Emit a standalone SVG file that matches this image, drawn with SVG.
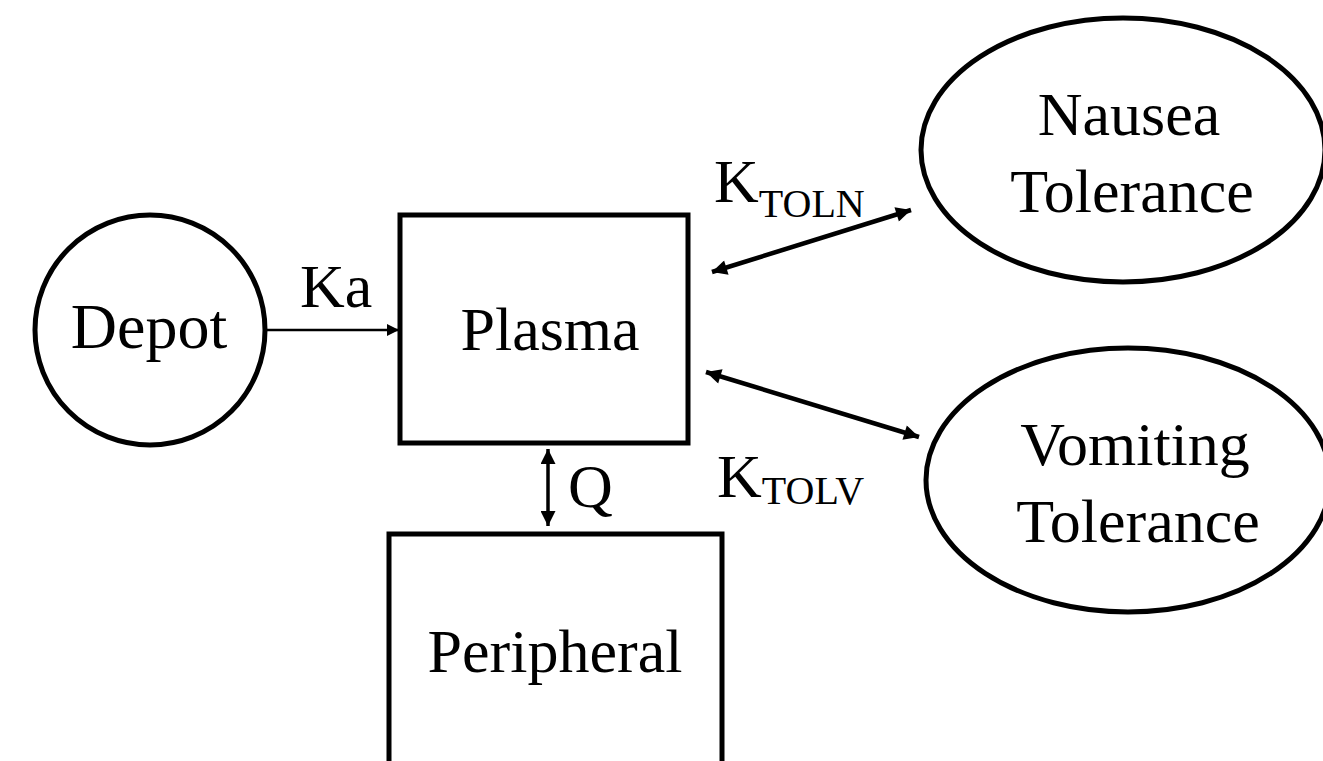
<svg xmlns="http://www.w3.org/2000/svg" width="1323" height="761" viewBox="0 0 1323 761">
<style>
.n{fill:#fff;stroke:#000;stroke-width:5}
.t{font-family:"Liberation Serif","Times New Roman",serif;font-size:62px;fill:#000;text-anchor:middle}
.l{font-family:"Liberation Serif","Times New Roman",serif;font-size:62px;fill:#000}
.c{stroke:#000;fill:none}
</style>
<defs>
<marker id="ah" viewBox="0 0 10 10" refX="10" refY="5" markerWidth="19" markerHeight="15" markerUnits="userSpaceOnUse" orient="auto-start-reverse">
<path d="M0,0 L10,5 L0,10 z" fill="#000"/>
</marker>
<marker id="ahs" viewBox="0 0 10 10" refX="10" refY="5" markerWidth="15" markerHeight="12" markerUnits="userSpaceOnUse" orient="auto">
<path d="M0,0 L10,5 L0,10 z" fill="#000"/>
</marker>
</defs>
<g id="connectors">
<line class="c" x1="267" y1="330" x2="399" y2="330" stroke-width="2.5" marker-end="url(#ahs)"/>
<line class="c" x1="548" y1="449" x2="548" y2="526" stroke-width="3.5" marker-start="url(#ah)" marker-end="url(#ah)"/>
<line class="c" x1="712" y1="272" x2="911" y2="210" stroke-width="4.5" marker-start="url(#ah)" marker-end="url(#ah)"/>
<line class="c" x1="706" y1="372" x2="919" y2="437" stroke-width="4.5" marker-start="url(#ah)" marker-end="url(#ah)"/>
<text class="l" x="300" y="307">Ka</text>
<text class="l" x="568" y="507">Q</text>
<text class="l" x="714" y="202">K<tspan font-size="40" dy="15">TOLN</tspan></text>
<text class="l" x="717" y="497">K<tspan font-size="40" dy="7">TOLV</tspan></text>
</g>
<g id="depot">
<circle class="n" cx="150" cy="330" r="115"/>
<text class="t" x="149" y="348" style="font-size:64px">Depot</text>
</g>
<g id="plasma">
<rect class="n" x="400" y="215" width="288" height="228"/>
<text class="t" x="550" y="350">Plasma</text>
</g>
<g id="peripheral">
<rect class="n" x="389" y="534" width="333" height="260"/>
<text class="t" x="555" y="672">Peripheral</text>
</g>
<g id="nausea">
<ellipse class="n" cx="1123" cy="150" rx="202" ry="132"/>
<text class="t" x="1129" y="135">Nausea</text>
<text class="t" x="1132" y="212">Tolerance</text>
</g>
<g id="vomiting">
<ellipse class="n" cx="1128" cy="480" rx="202" ry="132"/>
<text class="t" x="1135" y="465">Vomiting</text>
<text class="t" x="1138" y="542">Tolerance</text>
</g>
</svg>
